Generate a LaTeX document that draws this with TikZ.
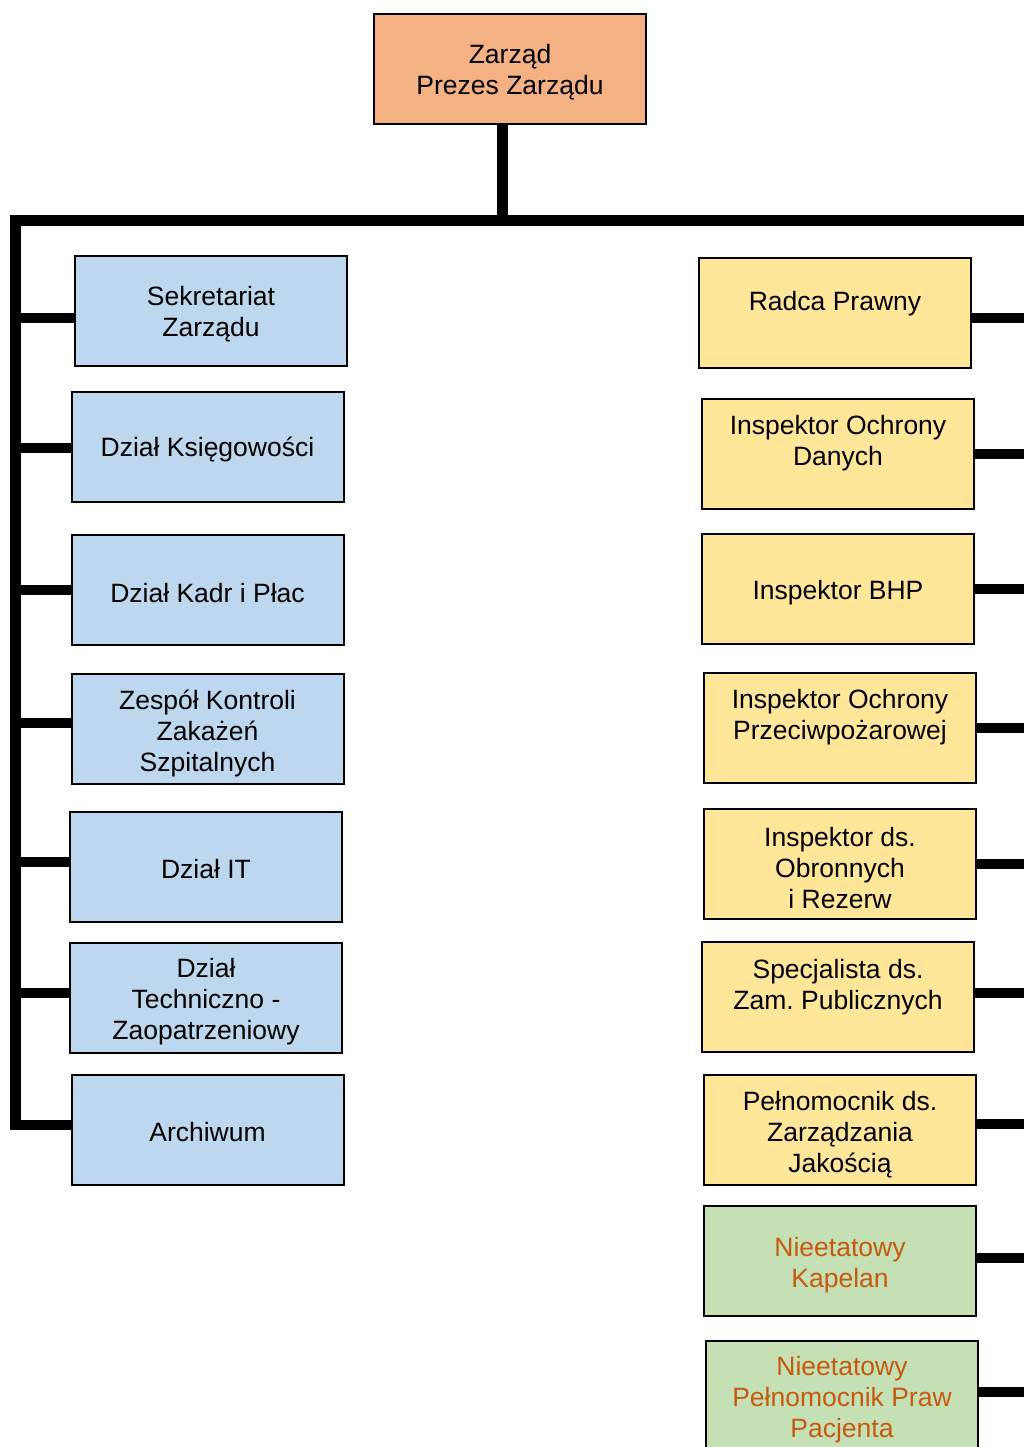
\documentclass[tikz,border=0pt]{standalone}
\usepackage{fontspec}
\setmainfont{Liberation Sans}
\frenchspacing
\definecolor{orangefill}{HTML}{F4B183}
\definecolor{bluefill}{HTML}{BDD7EE}
\definecolor{yellowfill}{HTML}{FFE699}
\definecolor{greenfill}{HTML}{C5E0B4}
\definecolor{orangetext}{HTML}{C55A11}
\tikzset{
  box/.style={draw=black, line width=2pt, minimum width=272pt, minimum height=110pt, inner sep=0pt},
  txt/.style={align=center, font=\fontsize{26.5}{31}\selectfont, inner sep=0pt},
  conn/.style={line width=10.5pt, line join=miter, draw=black},
}
\begin{document}
\begin{tikzpicture}[x=1pt,y=-1pt]
\useasboundingbox (0,0) rectangle (1024,1447);
\clip (0,0) rectangle (1024,1447);
% top
\node[box, fill=orangefill] (top) at (510,69) {};
\node[txt] (ttop) at (510,72) {Zarząd\\Prezes Zarządu};
% left boxes
\node[box, fill=bluefill] (l1) at (211,311) {};
\node[txt] (tl1) at (211,314) {Sekretariat\\Zarządu};
\node[box, fill=bluefill] (l2) at (207.5,447) {};
\node[txt] (tl2) at (207.5,450) {Dział Księgowości};
\node[box, fill=bluefill] (l3) at (207.5,590) {};
\node[txt] (tl3) at (207.5,593) {Dział Kadr i Płac};
\node[box, fill=bluefill] (l4) at (207.5,729) {};
\node[txt] (tl4) at (207.5,733) {Zespół Kontroli\\Zakażeń\\Szpitalnych};
\node[box, fill=bluefill] (l5) at (206,867) {};
\node[txt] (tl5) at (206,869) {Dział IT};
\node[box, fill=bluefill] (l6) at (206,998) {};
\node[txt] (tl6) at (206,1002) {Dział\\Techniczno -\\Zaopatrzeniowy};
\node[box, fill=bluefill] (l7) at (207.5,1130) {};
\node[txt] (tl7) at (207.5,1132) {Archiwum};
% right boxes
\node[box, fill=yellowfill] (r1) at (835,313) {};
\node[txt] (tr1) at (835,304) {Radca Prawny};
\node[box, fill=yellowfill] (r2) at (838,454) {};
\node[txt] (tr2) at (838,443) {Inspektor Ochrony\\Danych};
\node[box, fill=yellowfill] (r3) at (838,589) {};
\node[txt] (tr3) at (838,593) {Inspektor BHP};
\node[box, fill=yellowfill] (r4) at (840,728) {};
\node[txt] (tr4) at (840,717) {Inspektor Ochrony\\Przeciwpożarowej};
\node[box, fill=yellowfill] (r5) at (840,864) {};
\node[txt] (tr5) at (840,868) {Inspektor ds.\\Obronnych\\i Rezerw};
\node[box, fill=yellowfill] (r6) at (838,997) {};
\node[txt] (tr6) at (838,987) {Specjalista ds.\\Zam. Publicznych};
\node[box, fill=yellowfill] (r7) at (840,1130) {};
\node[txt] (tr7) at (840,1135) {Pełnomocnik ds.\\Zarządzania\\Jakością};
\node[box, fill=greenfill] (r8) at (840,1261) {};
\node[txt, text=orangetext] (tr8) at (840,1265) {Nieetatowy\\Kapelan};
\node[box, fill=greenfill] (r9) at (842,1396) {};
\node[txt, text=orangetext] (tr9) at (842,1400) {Nieetatowy\\Pełnomocnik Praw\\Pacjenta};
% connectors
\coordinate (spine) at (15.5,220.5);
\coordinate (rightedge) at (1030,220.5);
\coordinate (stemend) at (502.7,220.5);
\draw[conn] ([yshift=5pt]l7.west) -- ([yshift=5pt]l7.west -| spine) -- (spine) -- (rightedge);
\draw[conn] (top.south -| stemend) -- (stemend);
\draw[conn] ([yshift=-7pt]l1.west) -- ([yshift=-7pt]l1.west -| spine);
\draw[conn] ([yshift=-1pt]l2.west) -- ([yshift=-1pt]l2.west -| spine);
\draw[conn] (l3.west) -- (l3.west -| spine);
\draw[conn] ([yshift=6pt]l4.west) -- ([yshift=6pt]l4.west -| spine);
\draw[conn] ([yshift=5pt]l5.west) -- ([yshift=5pt]l5.west -| spine);
\draw[conn] ([yshift=5pt]l6.west) -- ([yshift=5pt]l6.west -| spine);
\draw[conn] ([yshift=-5pt]r1.east) -- ([yshift=-5pt]r1.east -| rightedge);
\draw[conn] (r2.east) -- (r2.east -| rightedge);
\draw[conn] (r3.east) -- (r3.east -| rightedge);
\draw[conn] (r4.east) -- (r4.east -| rightedge);
\draw[conn] (r5.east) -- (r5.east -| rightedge);
\draw[conn] ([yshift=4pt]r6.east) -- ([yshift=4pt]r6.east -| rightedge);
\draw[conn] ([yshift=6pt]r7.east) -- ([yshift=6pt]r7.east -| rightedge);
\draw[conn] ([yshift=3pt]r8.east) -- ([yshift=3pt]r8.east -| rightedge);
\draw[conn] ([yshift=4pt]r9.east) -- ([yshift=4pt]r9.east -| rightedge);
\end{tikzpicture}
\end{document}
